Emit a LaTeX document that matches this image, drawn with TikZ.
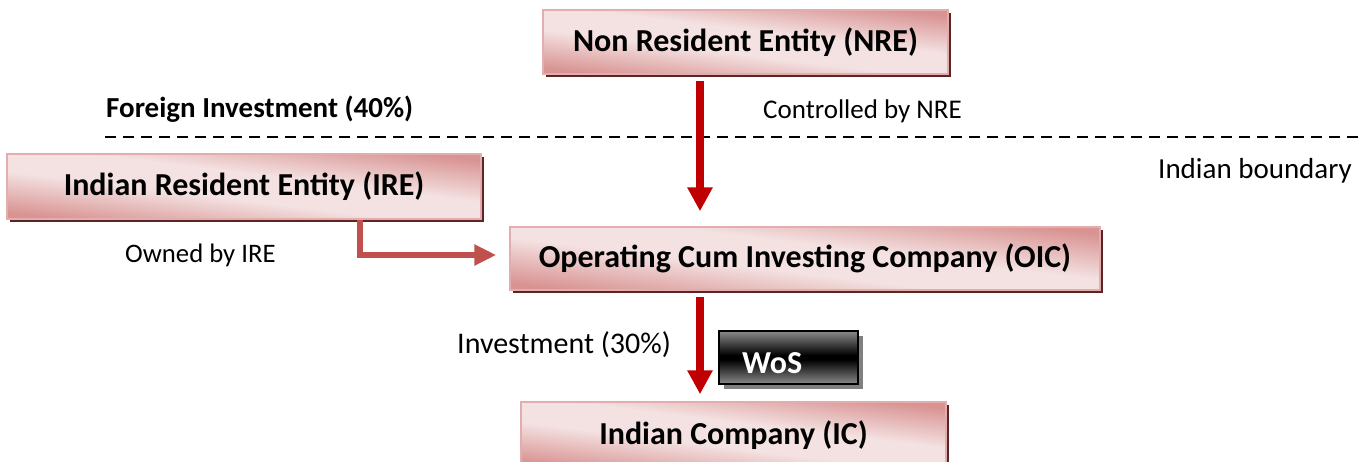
\documentclass[tikz,border=0pt]{standalone}
\usepackage{fontspec}
\setmainfont{Carlito}
\usetikzlibrary{arrows.meta,shadows}

\definecolor{pinkdark}{HTML}{D89392}
\definecolor{pinklight}{HTML}{F4E2E2}
\definecolor{pinkedge}{HTML}{E2AEAD}
\definecolor{boxshadow}{HTML}{5E2424}
\definecolor{arrowred}{HTML}{C00000}
\definecolor{elbowred}{HTML}{C0504D}
\definecolor{wosgrey}{HTML}{8A8A8A}
\definecolor{wosshadowgrey}{HTML}{808080}

% soft pink band across each entity box
\pgfdeclarehorizontalshading{boxshade}{100bp}{%
  color(0bp)=(pinkdark); color(25bp)=(pinkdark);
  color(44bp)=(pinklight); color(56bp)=(pinklight);
  color(75bp)=(pinkdark); color(100bp)=(pinkdark)}
% glossy black label
\pgfdeclareverticalshading{wosshade}{100bp}{%
  color(0bp)=(wosgrey); color(25bp)=(wosgrey);
  color(48bp)=(black); color(52bp)=(black);
  color(75bp)=(wosgrey); color(100bp)=(wosgrey)}

\tikzset{
  entity/.style={draw=pinkedge, line width=1.5pt, shading=boxshade,
    shading angle=83, inner sep=0pt, font=\bfseries\fontsize{32}{36}\selectfont,
    drop shadow={shadow xshift=3pt, shadow yshift=-3pt, fill=boxshadow, opacity=1}},
  tag/.style={draw=black, line width=1.5pt, shading=wosshade, inner sep=0pt,
    minimum width=139pt, minimum height=53pt,
    drop shadow={shadow xshift=5pt, shadow yshift=-5pt, fill=wosshadowgrey, opacity=1}},
  note/.style={anchor=base west, inner sep=0pt},
  heading/.style={anchor=base west, inner sep=0pt, font=\bfseries\fontsize{29}{32}\selectfont},
  bigarrow/.style={draw=arrowred, line width=8pt,
    -{Triangle[width=24pt,length=24pt]}},
  elbow/.style={draw=elbowred, line width=6pt,
    -{Triangle[width=20pt,length=22pt]}},
  boundary/.style={line width=2pt, dash pattern=on 11pt off 7pt},
}

\begin{document}
\begin{tikzpicture}[x=1pt, y=-1pt]
\useasboundingbox (0,0) rectangle (1360,461);

% entities
\node[entity, minimum width=405pt, minimum height=64pt] (nre) at (745.5,42)
  {Non Resident Entity (NRE)};
\node[entity, minimum width=474pt, minimum height=65pt] (ire) at (244,186.5)
  {Indian Resident Entity (IRE)};
\node[entity, minimum width=590pt, minimum height=63pt] (oic) at (805,258.5)
  {Operating Cum Investing Company (OIC)};
\node[entity, minimum width=425pt, minimum height=66pt] (ic) at (733.5,435)
  {Indian Company (IC)};
\node[tag] (wos) at (788.5,357.5) {};
\node[anchor=base west, inner sep=0pt, text=white,
  font=\bfseries\fontsize{32}{36}\selectfont] (wostext) at (742,373) {WoS};

% Indian boundary
\coordinate (bl) at (105,137);
\coordinate (br) at (1360,137);
\draw[boundary] (bl) -- (br);

% labels
\node[heading] (fi) at (106,117) {Foreign Investment (40\%)};
\node[note, font=\fontsize{27}{30}\selectfont] (ctrl) at (763,118) {Controlled by NRE};
\node[note, font=\fontsize{29}{32}\selectfont] (ib) at (1158,178) {Indian boundary};
\node[note, font=\fontsize{26.7}{30}\selectfont] (own) at (125,262) {Owned by IRE};
\node[note, font=\fontsize{30}{33}\selectfont] (inv) at (457,353) {Investment (30\%)};

% connectors
\draw[bigarrow, shorten <=6pt, shorten >=15pt]
  ([xshift=-45.5pt]nre.south) -- ([xshift=-105pt]oic.north);
\draw[bigarrow, shorten <=6pt, shorten >=7pt]
  ([xshift=-105pt]oic.south) -- ([xshift=-33.5pt]ic.north);
\draw[elbow, shorten >=13pt]
  ([xshift=116pt]ire.south) |- ([yshift=3.5pt]oic.west);
\end{tikzpicture}
\end{document}
